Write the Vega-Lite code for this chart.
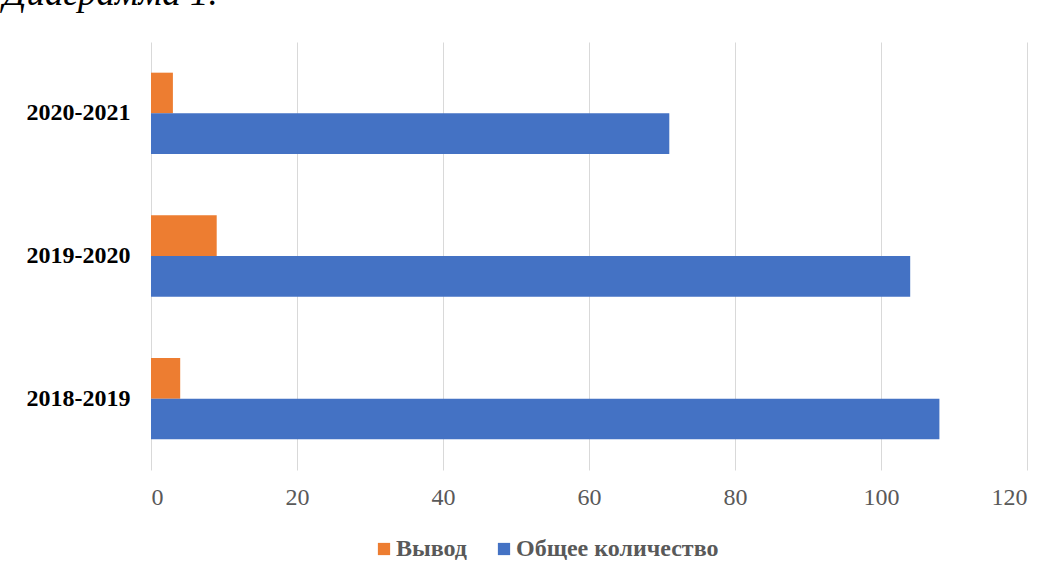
{
  "$schema": "https://vega.github.io/schema/vega-lite/v6.json",
  "autosize": "none",
  "width": 876,
  "height": 428,
  "padding": {"left": 151, "top": 42, "right": 37, "bottom": 111},
  "background": "white",
  "title": {
    "text": "Диаграмма 1.",
    "anchor": "start",
    "frame": "group",
    "orient": "top",
    "dx": -148,
    "offset": 0,
    "baseline": "alphabetic",
    "font": "Liberation Serif",
    "fontStyle": "italic",
    "fontWeight": "normal",
    "fontSize": 37,
    "color": "black"
  },
  "data": {
    "values": [
      {"year": "2020-2021", "series": "Вывод", "value": 3},
      {"year": "2020-2021", "series": "Общее количество", "value": 71},
      {"year": "2019-2020", "series": "Вывод", "value": 9},
      {"year": "2019-2020", "series": "Общее количество", "value": 104},
      {"year": "2018-2019", "series": "Вывод", "value": 4},
      {"year": "2018-2019", "series": "Общее количество", "value": 108}
    ]
  },
  "mark": {"type": "bar"},
  "encoding": {
    "y": {
      "field": "year",
      "type": "nominal",
      "sort": ["2020-2021", "2019-2020", "2018-2019"],
      "scale": {"paddingInner": 0.43, "paddingOuter": 0.215},
      "axis": {
        "title": null,
        "domain": false,
        "ticks": false,
        "grid": false,
        "labelFont": "Liberation Serif",
        "labelFontSize": 24,
        "labelFontWeight": "bold",
        "labelColor": "black",
        "labelPadding": 21
      }
    },
    "yOffset": {
      "field": "series",
      "type": "nominal",
      "sort": ["Вывод", "Общее количество"],
      "scale": {"paddingInner": 0, "paddingOuter": 0}
    },
    "x": {
      "field": "value",
      "type": "quantitative",
      "scale": {"domain": [0, 120], "nice": false},
      "axis": {
        "title": null,
        "values": [0, 20, 40, 60, 80, 100, 120],
        "domain": false,
        "ticks": false,
        "grid": true,
        "gridColor": "#d9d9d9",
        "gridWidth": 1,
        "labelFont": "Liberation Serif",
        "labelFontSize": 24,
        "labelColor": "#595959",
        "labelPadding": 15
      }
    },
    "color": {
      "field": "series",
      "type": "nominal",
      "sort": ["Вывод", "Общее количество"],
      "scale": {"domain": ["Вывод", "Общее количество"], "range": ["#ED7D31", "#4472C4"]},
      "legend": {
        "title": null,
        "orient": "none",
        "direction": "horizontal",
        "legendX": 221,
        "legendY": 495,
        "symbolType": "square",
        "symbolSize": 150,
        "symbolStrokeWidth": 0,
        "labelFont": "Liberation Serif",
        "labelFontSize": 24,
        "labelFontWeight": "bold",
        "labelColor": "#595959",
        "labelLimit": 0,
        "columnPadding": 25,
        "labelOffset": 0
      }
    }
  },
  "config": {
    "view": {"stroke": null}
  }
}
